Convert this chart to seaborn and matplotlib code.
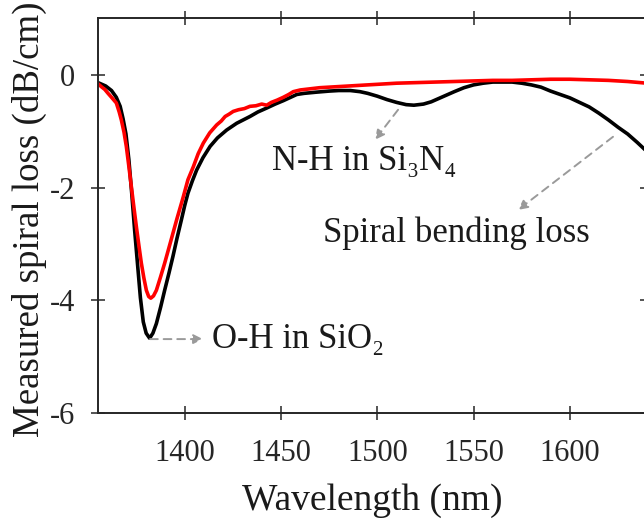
import numpy as np
import pandas as pd
import matplotlib
matplotlib.use("Agg")
import matplotlib.pyplot as plt
import seaborn as sns

# Measured spiral loss, SiO2-clad spiral (black)
wl_black = [1355, 1359, 1362, 1364.5, 1366.5, 1368, 1369.5, 1371, 1372.5, 1374,
            1375.5, 1377, 1378.5, 1380, 1381.8, 1383.5, 1385.3, 1387.5, 1389.6, 1391.8,
            1393.9, 1396, 1398.3, 1400, 1401.7, 1404, 1406.2, 1409.5, 1413.2, 1417,
            1421.8, 1427, 1433.9, 1438, 1442.6, 1447, 1451.2, 1458.2, 1462, 1468,
            1475, 1480, 1486, 1491, 1495, 1500, 1505, 1510, 1515, 1519,
            1524, 1528, 1532, 1536, 1540, 1545, 1550, 1555, 1560, 1565,
            1570, 1575, 1580, 1585, 1590, 1595, 1600, 1605, 1610, 1615,
            1620, 1625, 1630, 1635, 1640]
loss_black = [-0.14, -0.20, -0.28, -0.40, -0.56, -0.78, -1.05, -1.50, -2.10, -2.75,
              -3.35, -3.95, -4.38, -4.58, -4.67, -4.58, -4.41, -4.12, -3.82, -3.52,
              -3.22, -2.90, -2.57, -2.32, -2.10, -1.88, -1.69, -1.47, -1.27, -1.12,
              -0.98, -0.86, -0.74, -0.66, -0.59, -0.52, -0.46, -0.35, -0.33, -0.31,
              -0.29, -0.28, -0.28, -0.30, -0.33, -0.38, -0.44, -0.49, -0.53, -0.54,
              -0.52, -0.48, -0.42, -0.36, -0.30, -0.23, -0.18, -0.15, -0.13, -0.13,
              -0.13, -0.15, -0.18, -0.22, -0.29, -0.35, -0.41, -0.49, -0.57, -0.68,
              -0.80, -0.93, -1.05, -1.20, -1.36]

# Measured spiral loss, second spiral (red)
wl_red = [1355, 1357, 1358.5, 1360.2, 1362, 1364.5, 1366, 1367.1, 1368.5, 1369.7,
          1371, 1372.3, 1373.6, 1374.9, 1376.2, 1377.5, 1378.8, 1380.1, 1381.3, 1382.4,
          1383.8, 1385.3, 1387.5, 1389.6, 1391.8, 1393.9, 1396, 1398.3, 1399.3, 1401.7,
          1404.5, 1407, 1409.7, 1413, 1416.6, 1419, 1421, 1423, 1425.2, 1428,
          1431, 1433.9, 1437, 1440, 1442.6, 1445, 1448, 1451.2, 1454, 1456.4,
          1460, 1465, 1470, 1480, 1490, 1500, 1510, 1520, 1530, 1540,
          1550, 1560, 1570, 1580, 1590, 1600, 1610, 1620, 1630, 1640]
loss_red = [-0.16, -0.22, -0.26, -0.33, -0.40, -0.50, -0.66, -0.80, -1.02, -1.27,
            -1.62, -1.98, -2.34, -2.69, -3.02, -3.34, -3.60, -3.82, -3.93, -3.96,
            -3.92, -3.82, -3.58, -3.34, -3.07, -2.81, -2.55, -2.28, -2.16, -1.86,
            -1.63, -1.40, -1.21, -1.03, -0.89, -0.82, -0.74, -0.70, -0.65, -0.62,
            -0.60, -0.56, -0.55, -0.52, -0.54, -0.49, -0.45, -0.40, -0.35, -0.30,
            -0.27, -0.25, -0.23, -0.21, -0.19, -0.17, -0.15, -0.14, -0.13, -0.12,
            -0.11, -0.10, -0.10, -0.09, -0.08, -0.08, -0.09, -0.10, -0.12, -0.15]

x_ticks = [1400, 1450, 1500, 1550, 1600]
y_ticks = [-6, -4, -2, 0]

sns.set_style("ticks")
plt.rcParams["font.family"] = ["Liberation Serif", "DejaVu Serif"]

INK = "#262626"
fig = plt.figure(figsize=(6.44, 5.2), dpi=100)
ax = fig.add_axes([0.1522, 0.2052, 0.8523, 0.7596])

df_black = pd.DataFrame({"wl": wl_black, "loss": loss_black})
df_red = pd.DataFrame({"wl": wl_red, "loss": loss_red})
sns.lineplot(data=df_black, x="wl", y="loss", ax=ax, color="black", lw=2.6,
             sort=False, estimator=None)
sns.lineplot(data=df_red, x="wl", y="loss", ax=ax, color="#ff0000", lw=2.6,
             sort=False, estimator=None)

ax.set_xlim(1355, 1640)
ax.set_ylim(-6, 1)
ax.set_xticks(x_ticks)
ax.set_yticks(y_ticks)
ax.set_yticklabels([str(v) for v in y_ticks])
ax.tick_params(axis="both", direction="inout", length=9.5, width=1.1,
               colors=INK, labelsize=22, top=True, right=True)
ax.tick_params(axis="x", pad=14)
ax.tick_params(axis="y", pad=12)
for s in ax.spines.values():
    s.set_visible(True)
    s.set_color(INK)
    s.set_linewidth(1.4)

ax.set_xlabel("Wavelength (nm)", fontsize=27, color="#1a1a1a", labelpad=11)
ax.set_ylabel("Measured spiral loss (dB/cm)", fontsize=26.6, color="#1a1a1a")
ax.yaxis.set_label_coords(-0.093, 0.49)

arrow = dict(arrowstyle="-|>", linestyle=(0, (4, 3)), color="#9a9a9a",
             lw=1.4, mutation_scale=14, shrinkA=0, shrinkB=0)

ax.annotate("", xy=(1409.5, -4.685), xytext=(1382.0, -4.685), arrowprops=arrow)
ax.text(1414.2, -4.85, "O-H in SiO\u2082", fontsize=25, color="#1a1a1a",
        va="baseline", ha="left")

ax.annotate("", xy=(1498.8, -1.153), xytext=(1510.8, -0.621), arrowprops=arrow)
ax.text(1445.2, -1.686, "N-H in Si\u2083N\u2084", fontsize=25, color="#1a1a1a",
        va="baseline", ha="left")

ax.annotate("", xy=(1573.1, -2.396), xytext=(1622.4, -1.10), arrowprops=arrow)
ax.text(1472.0, -2.958, "Spiral bending loss", fontsize=25, color="#1a1a1a",
        va="baseline", ha="left")

fig.savefig("out.png", dpi=100)
